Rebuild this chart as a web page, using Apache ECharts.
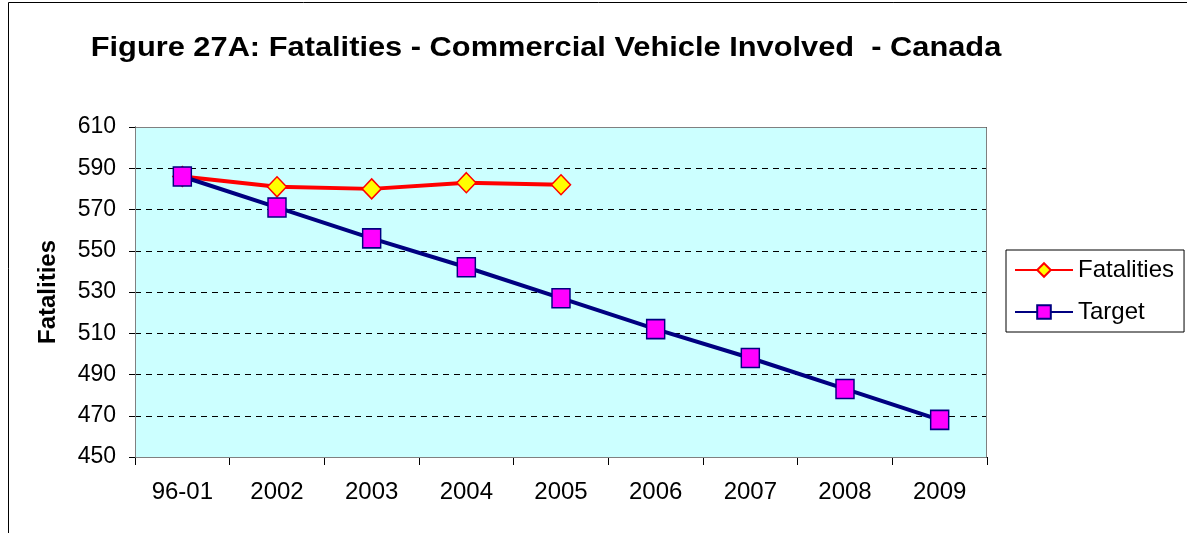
<!DOCTYPE html>
<html>
<head>
<meta charset="utf-8">
<title>Figure 27A: Fatalities - Commercial Vehicle Involved - Canada</title>
<script src="https://cdn.jsdelivr.net/npm/echarts@6/dist/echarts.min.js"></script>
<style>
  html, body { margin: 0; padding: 0; background: #ffffff; }
  #chart { width: 1187px; height: 533px; }
</style>
</head>
<body>
<div id="chart"></div>
<script>
// Period labels along the x axis
const periods = ['96-01', '2002', '2003', '2004', '2005', '2006', '2007', '2008', '2009'];
// Recorded fatalities (baseline average, then yearly)
const fatalities = [586, 581, 580, 583, 582];
// Target path toward the reduction goal
const target = [586, 571, 556, 542, 527, 512, 498, 483, 468];
// Value axis range and step
const yMin = 450;
const yMax = 610;
const yStep = 20;

const FONT = '"Liberation Sans", Arial, sans-serif';
const gridBox = { left: 135, top: 127, right: 200, bottom: 76 };

const chart = echarts.init(document.getElementById('chart'), null, { renderer: 'canvas' });

chart.setOption({
  animation: false,
  backgroundColor: '#ffffff',
  legend: {
    orient: 'vertical',
    left: 1006,
    top: 250,
    padding: [8, 10, 8, 8],
    itemGap: 18,
    itemWidth: 58,
    itemHeight: 17,
    borderColor: '#000000',
    borderWidth: 1,
    backgroundColor: '#ffffff',
    textStyle: { fontFamily: FONT, fontSize: 24, color: '#000000', padding: [0, 0, 0, 0] },
    data: ['Fatalities', 'Target']
  },
  grid: {
    left: gridBox.left,
    top: gridBox.top,
    right: gridBox.right,
    bottom: gridBox.bottom,
    show: true,
    backgroundColor: '#CCFFFF',
    borderWidth: 0
  },
  xAxis: {
    type: 'category',
    data: periods,
    boundaryGap: true,
    axisLine: { show: true, lineStyle: { color: '#000000', width: 1 } },
    axisTick: { show: true, alignWithLabel: false, length: 8, lineStyle: { color: '#000000' } },
    axisLabel: { fontFamily: FONT, fontSize: 24, color: '#000000', margin: 23 },
    splitLine: { show: false }
  },
  yAxis: {
    type: 'value',
    min: yMin,
    max: yMax,
    interval: yStep,
    name: 'Fatalities',
    nameLocation: 'middle',
    nameGap: 75,
    nameRotate: 90,
    nameTextStyle: { fontFamily: FONT, fontSize: 24, fontWeight: 'bold', color: '#000000' },
    axisLine: { show: true, lineStyle: { color: '#000000', width: 1 } },
    axisTick: { show: true, length: 6, lineStyle: { color: '#000000' } },
    axisLabel: { fontFamily: FONT, fontSize: 23, color: '#000000', margin: 19 },
    splitLine: { show: true, lineStyle: { color: '#000000', type: [6, 5], width: 1 } }
  },
  graphic: [
    {
      // chart title, set a little wide
      type: 'text',
      x: 546,
      y: 34,
      scaleX: 1.1,
      silent: true,
      style: {
        x: 0,
        y: 0,
        text: 'Figure 27A: Fatalities - Commercial Vehicle Involved  - Canada',
        font: 'bold 28px "Liberation Sans", Arial, sans-serif',
        fill: '#000000',
        textAlign: 'center',
        textVerticalAlign: 'top'
      }
    },
    {
      // outer chart frame
      type: 'rect',
      silent: true,
      z: -10,
      shape: { x: 8.5, y: 2.5, width: 1200, height: 600 },
      style: { fill: 'none', stroke: '#000000', lineWidth: 1 }
    },
    {
      // plot area frame
      type: 'rect',
      silent: true,
      z: 5,
      shape: {
        x: gridBox.left + 0.5,
        y: gridBox.top + 0.5,
        width: 1187 - gridBox.left - gridBox.right - 1,
        height: 533 - gridBox.top - gridBox.bottom
      },
      style: { fill: 'none', stroke: '#808080', lineWidth: 1 }
    }
  ],
  series: [
    {
      name: 'Fatalities',
      type: 'line',
      data: fatalities,
      z: 3,
      symbol: 'diamond',
      symbolSize: [19, 20],
      lineStyle: { color: '#FF0000', width: 4 },
      itemStyle: { color: '#FFFF00', borderColor: '#FF0000', borderWidth: 1.5 }
    },
    {
      name: 'Target',
      type: 'line',
      data: target,
      z: 4,
      symbol: 'rect',
      symbolSize: [18, 19],
      lineStyle: { color: '#000080', width: 4 },
      itemStyle: { color: '#FF00FF', borderColor: '#000080', borderWidth: 1.5 }
    }
  ]
});
</script>
</body>
</html>
